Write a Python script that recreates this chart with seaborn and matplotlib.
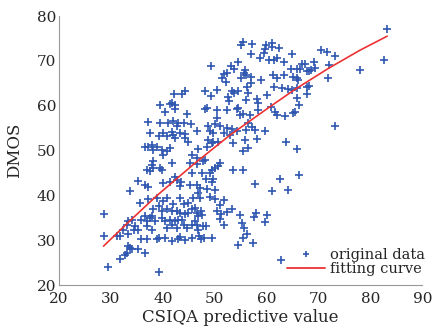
import matplotlib
matplotlib.use("Agg")
import matplotlib.pyplot as plt
import seaborn as sns
from matplotlib.lines import Line2D

sns.set_style("white")
plt.rcParams['font.family'] = ['DejaVu Serif']

# original data
orig_x = [42.2, 43.8, 44.2, 39.5, 41.4, 41.8, 42.4,
          55.5, 55.0, 57.2, 59.8, 61.1, 61.1, 62.4, 59.7, 59.4, 56.9, 58.8, 60.4, 61.4, 62.0,
          63.4, 64.9, 49.2, 53.1, 54.4, 53.7, 52.4, 51.8, 51.5, 52.2, 55.8, 55.6, 56.1, 56.9,
          55.0, 56.9, 59.0, 61.3, 61.9, 63.3, 64.6, 65.1, 61.4, 63.0, 64.2, 64.8, 48.1, 49.2,
          50.5, 53.3, 54.4, 53.7, 52.6, 52.8, 56.3, 56.5, 56.0, 58.1, 60.1, 58.4, 54.4, 60.9, 48.6,
          83.2, 82.6, 77.9, 71.8, 70.4, 71.7, 73.1, 72.0, 69.1, 69.4, 68.5, 67.4, 66.9, 67.8,
          68.1, 66.5, 65.8, 66.1, 65.8, 67.8, 68.1, 67.7, 65.8, 65.9, 66.2,
          73.1, 65.8, 66.2, 65.4,
          47.2, 49.1, 50.1, 51.8, 51.0, 53.4, 52.3, 51.3, 50.4, 51.1, 51.7, 54.9, 55.2, 55.7,
          57.9, 57.6, 60.1, 59.7, 56.3, 55.5, 54.4, 57.4, 49.5, 47.9, 47.3, 46.9, 48.3, 47.8,
          47.5, 47.3, 46.2, 46.5, 46.8, 46.2, 46.5, 46.8, 62.8,
          48.1, 50.4, 52.4, 54.2, 54.9, 55.5, 56.8, 58.4, 61.6, 62.0, 63.5, 65.1, 46.5, 48.8,
          49.1, 49.7, 50.4, 50.1, 51.0, 52.3, 53.3, 54.2, 52.9, 51.7, 48.8, 49.7, 50.7, 49.4,
          53.6, 55.8, 56.1, 57.1, 56.5, 57.8, 59.7, 58.1, 63.8, 55.5, 56.5, 46.7, 48.5, 46.5,
          47.8, 48.1, 46.5, 49.4, 50.1, 50.6, 51.0, 49.1, 47.5, 48.3, 49.7, 49.4, 46.5, 47.2,
          46.8, 48.5, 50.1, 53.6, 55.5, 57.8, 62.6, 64.2, 61.0,
          40.4, 42.4, 44.6, 37.2, 39.5, 41.1, 42.0, 43.0, 44.0, 45.4, 42.7, 37.6, 39.2, 40.1,
          41.7, 40.8, 42.0, 43.3, 44.3, 42.4, 44.3, 44.9, 36.6, 37.2, 37.9, 38.8, 38.2, 39.8,
          40.8, 41.4, 40.1, 45.6, 38.2, 37.9, 36.9, 37.6, 38.2, 39.5, 39.8, 41.7, 45.2, 45.6,
          35.3, 36.6, 37.2, 40.1, 41.4, 42.4, 42.7, 43.6, 43.3, 45.2, 33.7,
          28.6, 28.6, 29.5, 35.6, 37.2, 38.8, 40.1, 40.8, 42.0, 43.3, 44.0, 44.9, 45.6, 38.2,
          39.2, 39.8, 40.8, 41.7, 42.7, 43.3, 44.3, 44.9, 37.9, 36.6, 35.9, 36.9, 37.6, 38.5,
          39.8, 40.4, 41.4, 42.4, 43.0, 43.7, 40.8, 41.7, 42.7, 44.0, 44.6, 45.6, 33.4, 34.0,
          33.1, 34.7, 34.4, 35.3, 32.4, 33.4, 36.9, 37.9, 35.9, 36.9, 38.8, 39.2, 40.4, 41.7,
          43.0, 43.3, 44.3, 45.6, 31.2, 31.8, 33.4, 33.7, 34.0, 33.1, 32.8, 31.8, 35.3, 36.6,
          39.2, 45.9]
orig_y = [62.6, 62.6, 63.3, 60.1, 60.4, 60.7, 60.1,
          74.3, 73.5, 73.8, 73.5, 74.0, 73.2, 72.8, 72.6, 71.7, 71.5, 70.7, 70.3, 70.2, 70.6,
          69.8, 71.5, 68.9, 68.9, 69.7, 68.3, 67.4, 67.0, 66.2, 65.2, 68.0, 67.2, 66.8, 66.5,
          66.2, 65.0, 65.7, 66.8, 66.1, 66.8, 68.1, 66.5, 64.2, 64.0, 63.7, 63.5, 63.3, 62.2,
          63.5, 63.3, 63.3, 62.9, 62.0, 61.0, 64.1, 62.8, 61.3, 61.6, 62.4, 60.7, 59.6, 59.8, 59.6,
          77.2, 70.2, 68.0, 66.2, 72.4, 71.9, 71.1, 69.1, 69.8, 68.5, 68.0, 69.3, 69.3, 67.8,
          67.8, 68.1, 68.1, 65.7, 66.1, 64.2, 64.4, 62.7, 63.9, 61.8, 60.2,
          55.5, 50.3, 44.6, 58.7,
          39.5, 39.6, 39.3, 38.9, 37.8, 36.9, 36.3, 35.8, 36.5, 34.8, 33.3, 35.6, 33.9, 32.8,
          36.1, 35.2, 35.6, 34.0, 31.3, 30.4, 28.9, 29.3, 30.4, 30.4, 30.2, 30.9, 33.2, 33.2,
          35.6, 36.5, 37.2, 36.1, 35.4, 34.3, 33.5, 32.4, 25.6,
          59.3, 59.1, 59.1, 59.3, 58.0, 58.1, 58.0, 59.1, 58.7, 58.0, 57.6, 58.4, 54.4, 55.4,
          54.3, 53.9, 57.2, 55.9, 55.4, 55.0, 54.8, 54.3, 53.5, 53.9, 52.4, 52.0, 52.0, 51.7,
          51.8, 52.4, 54.6, 55.2, 56.1, 54.6, 54.3, 52.6, 52.0, 50.0, 50.6, 50.4, 50.8, 48.3,
          47.6, 48.0, 47.0, 45.7, 46.2, 46.5, 47.2, 45.0, 45.0, 43.7, 43.7, 43.0, 42.4, 41.6,
          40.5, 41.4, 41.3, 45.7, 45.6, 42.5, 43.7, 41.3, 41.0,
          58.6, 59.3, 58.1, 56.4, 56.1, 56.1, 56.5, 56.1, 56.1, 55.9, 55.4, 53.9, 53.2, 53.9,
          54.1, 53.2, 53.5, 53.9, 53.7, 52.9, 52.8, 52.0, 50.9, 50.7, 51.3, 50.9, 50.2, 50.2,
          50.0, 50.5, 49.1, 49.1, 47.6, 46.8, 45.7, 45.4, 46.1, 46.1, 45.7, 47.2, 47.2, 45.0,
          43.3, 42.4, 41.8, 42.8, 43.1, 44.2, 43.5, 43.1, 42.0, 42.4, 41.1,
          35.8, 30.9, 24.0, 38.4, 39.1, 39.5, 38.7, 39.5, 38.0, 39.5, 38.0, 38.4, 36.9, 36.9,
          37.6, 36.5, 36.9, 36.5, 36.5, 36.1, 35.8, 36.1, 35.4, 35.4, 34.6, 34.3, 35.0, 34.3,
          35.0, 34.3, 34.6, 34.3, 34.6, 34.6, 32.8, 33.3, 32.8, 33.5, 32.8, 33.5, 34.3, 34.6,
          33.5, 33.2, 32.4, 32.4, 32.4, 31.3, 33.2, 32.4, 30.2, 30.2, 30.2, 30.6, 30.6, 29.8,
          30.2, 30.8, 30.0, 30.6, 30.9, 30.9, 28.8, 28.3, 28.0, 27.2, 26.8, 25.9, 28.0, 27.2,
          22.9, 39.5]

# fitting curve
fit_x = [28.6, 33.0, 38.8, 46.2, 53.0, 60.3, 65.4, 72.0, 78.0, 83.2]
fit_y = [28.7, 33.6, 39.9, 47.2, 53.5, 59.5, 63.6, 68.4, 72.4, 75.5]

blue = '#2f56b0'
red = '#ec3232'

fig = plt.figure(figsize=(4.36, 3.27), dpi=100)
ax = fig.add_axes([0.135, 0.128, 0.834, 0.823])

sns.scatterplot(x=orig_x, y=orig_y, marker='+', s=30, color=blue, linewidth=1.2, ax=ax, zorder=2)
sns.lineplot(x=fit_x, y=fit_y, color=red, linewidth=1.2, ax=ax, sort=True, zorder=3)

ax.set_xlim(20, 90)
ax.set_ylim(20, 80)
ax.set_xticks(range(20, 91, 10))
ax.set_yticks(range(20, 81, 10))
ax.tick_params(direction='in', length=3, color='#888888', labelsize=11, pad=2)
ax.tick_params(axis='x', pad=5)
for s in ['top', 'right']:
    ax.spines[s].set_visible(False)
for s in ['left', 'bottom']:
    ax.spines[s].set_color('#999999')
    ax.spines[s].set_linewidth(0.8)

ax.set_xlabel('CSIQA predictive value', fontsize=12, labelpad=2)
ax.set_ylabel('DMOS', fontsize=12, labelpad=10)

handles = [Line2D([], [], marker='+', color=blue, linestyle='none', markersize=5, markeredgewidth=1.2),
           Line2D([], [], color=red, linewidth=1.3)]
ax.legend(handles, ['original data', 'fitting curve'], loc='lower right', frameon=False,
          fontsize=10.5, handlelength=2.6, handletextpad=0.3, labelspacing=0.05,
          borderaxespad=0.2, bbox_to_anchor=(1.03, 0.0))

plt.savefig('out.png', dpi=100)
